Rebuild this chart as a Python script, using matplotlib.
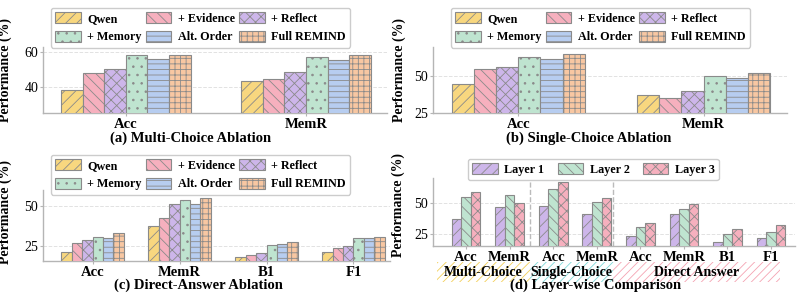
import matplotlib
matplotlib.use('Agg')
import matplotlib.pyplot as plt
import numpy as np
from matplotlib.patches import Rectangle
from matplotlib.transforms import blended_transform_factory

# ---- data ----
variants = ["Qwen", "+ Evidence", "+ Reflect", "+ Memory", "Alt. Order", "Full REMIND"]

mc_metrics = ["Acc", "MemR"]
mc_qwen = [38.1, 43.3]
mc_evidence = [47.9, 44.4]
mc_reflect = [50.2, 48.7]
mc_memory = [57.9, 57.0]
mc_alt = [55.6, 55.4]
mc_full = [58.3, 57.9]

sc_metrics = ["Acc", "MemR"]
sc_qwen = [44.9, 37.1]
sc_evidence = [54.9, 35.0]
sc_reflect = [56.2, 40.2]
sc_memory = [63.4, 50.5]
sc_alt = [61.8, 48.6]
sc_full = [65.4, 52.1]

da_metrics = ["Acc", "MemR", "B1", "F1"]
da_qwen = [21.1, 37.7, 17.9, 21.3]
da_evidence = [26.5, 42.7, 19.2, 23.8]
da_reflect = [28.6, 51.5, 20.8, 25.2]
da_memory = [30.6, 53.6, 25.4, 30.0]
da_alt = [30.2, 51.3, 26.1, 30.0]
da_full = [32.9, 54.8, 27.5, 30.6]

layer_metrics = ["Acc", "MemR", "Acc", "MemR", "Acc", "MemR", "B1", "F1"]
layer_names = ["Layer 1", "Layer 2", "Layer 3"]
layer1 = [37.1, 46.8, 47.0, 40.8, 23.1, 40.9, 18.5, 21.5]
layer2 = [54.8, 56.1, 61.3, 50.2, 30.6, 44.9, 25.0, 26.3]
layer3 = [58.5, 50.0, 66.9, 53.5, 33.9, 49.0, 29.0, 31.7]
groups = ["Multi-Choice", "Single-Choice", "Direct Answer"]

# ---- style ----
COLORS = {
    "Qwen": "#F8D77F", "+ Evidence": "#F6B0BE", "+ Reflect": "#CDB6EA",
    "+ Memory": "#BFE4D0", "Alt. Order": "#B7CDF0", "Full REMIND": "#F8C7A2",
    "Layer 1": "#CDB6EA", "Layer 2": "#BFE4D0", "Layer 3": "#F6B0BE",
}
HATCHES = {
    "Qwen": "///", "+ Evidence": "\\\\\\", "+ Reflect": "xxx",
    "+ Memory": "..", "Alt. Order": "---", "Full REMIND": "+++",
    "Layer 1": "///", "Layer 2": "\\\\\\", "Layer 3": "xxx",
}
EDGE = "#8a8a8a"
SPINE = "#b5b5b5"

plt.rc('font', family='Liberation Serif')
plt.rc('hatch', linewidth=0.6)

W, H = 798, 295
fig = plt.figure(figsize=(W / 100, H / 100), dpi=100)


def px_axes(left, top, right, bottom):
    return fig.add_axes([left / W, 1 - bottom / H, (right - left) / W, (bottom - top) / H])


def style_axes(ax, ylim, yticks, xlim):
    ax.set_ylim(*ylim)
    ax.set_xlim(*xlim)
    ax.set_yticks(yticks)
    ax.grid(axis='y', linestyle='--', color='#e2e2e2', linewidth=0.7, zorder=0)
    ax.set_axisbelow(True)
    for s in ['top', 'right']:
        ax.spines[s].set_visible(False)
    for s in ['left', 'bottom']:
        ax.spines[s].set_color(SPINE)
        ax.spines[s].set_linewidth(1.0)
    ax.tick_params(axis='both', colors=SPINE, length=2.5, pad=1)
    ax.tick_params(axis='y', labelcolor='black', labelsize=10)
    ax.tick_params(axis='x', labelcolor='black', labelsize=10.5)
    for lab in ax.get_xticklabels():
        lab.set_fontweight('bold')


def grouped_bars(ax, metrics, names, series, width):
    x = np.arange(len(metrics))
    n = len(series)
    handles = []
    for i, (name, vals) in enumerate(zip(names, series)):
        off = (i - (n - 1) / 2) * width
        h = ax.bar(x + off, vals, width, color=COLORS[name], hatch=HATCHES[name],
                   edgecolor=EDGE, linewidth=0.8, label=name, zorder=3)
        handles.append(h)
    ax.set_xticks(x)
    ax.set_xticklabels(metrics)
    return handles


def add_legend(ax, handles, names, x, y, ncol, order, colsp):
    ax.legend([handles[i] for i in order], [names[i] for i in order],
              loc='upper left', bbox_to_anchor=(x / W, 1 - y / H), bbox_transform=fig.transFigure,
              borderaxespad=0, ncol=ncol, prop={'weight': 'bold', 'size': 8.7}, frameon=True,
              edgecolor='#cccccc', framealpha=1.0, borderpad=0.35, handlelength=2.1,
              handleheight=1.0, columnspacing=colsp, handletextpad=0.55, labelspacing=0.5)


def label_panel(ax, title, tx, ty, lx, ly):
    fig.text(tx / W, 1 - ty / H, title, ha='center', va='center', fontsize=10.5, fontweight='bold')
    ax.set_ylabel("Performance (%)", fontsize=10, fontweight='bold')
    ax.yaxis.set_label_coords(lx / W, 1 - ly / H, transform=fig.transFigure)


legend_order = [0, 3, 1, 4, 2, 5]

# (a) Multi-choice ablation
ax_a = px_axes(43, 47, 387, 113)
h = grouped_bars(ax_a, mc_metrics, variants,
                 [mc_qwen, mc_evidence, mc_reflect, mc_memory, mc_alt, mc_full], 0.12)
style_axes(ax_a, (25, 62.7), [40, 60], (-0.46, 1.45))
add_legend(ax_a, h, variants, 51, 8, 3, legend_order, 0.35)
label_panel(ax_a, "(a) Multi-Choice Ablation", 191, 138, 12.5, 70)

# (b) Single-choice ablation
ax_b = px_axes(433, 47, 787, 113)
h = grouped_bars(ax_b, sc_metrics, variants,
                 [sc_qwen, sc_evidence, sc_reflect, sc_memory, sc_alt, sc_full], 0.12)
style_axes(ax_b, (25, 70), [25, 50], (-0.46, 1.45))
add_legend(ax_b, h, variants, 451, 8, 3, legend_order, 0.35)
label_panel(ax_b, "(b) Single-Choice Ablation", 589, 138, 406, 70)

# (c) Direct-answer ablation
ax_c = px_axes(43, 190, 390, 261)
h = grouped_bars(ax_c, da_metrics, variants,
                 [da_qwen, da_evidence, da_reflect, da_memory, da_alt, da_full], 0.12)
style_axes(ax_c, (15.5, 60), [25, 50], (-0.57, 3.42))
add_legend(ax_c, h, variants, 51, 155, 3, legend_order, 0.35)
label_panel(ax_c, "(c) Direct-Answer Ablation", 198, 285, 12.5, 212)

# (d) Layer-wise comparison
ax_d = px_axes(433, 178, 795, 246)
h = grouped_bars(ax_d, layer_metrics, layer_names, [layer1, layer2, layer3], 0.22)
style_axes(ax_d, (15, 70), [25, 50], (-0.76, 7.55))
add_legend(ax_d, h, layer_names, 468, 159, 3, [0, 1, 2], 1.1)
label_panel(ax_d, "(d) Layer-wise Comparison", 596, 285, 405, 205)

# separators and group bands under the x axis
seps = [1.47, 3.37]
for s in seps:
    ax_d.axvline(s, color='#bbbbbb', linestyle='--', linewidth=1.0, zorder=1)
band_edges = [-0.67, 1.47, 3.37, 7.2]
band_colors = ["#F3CF5A", "#7ED8D8", "#F4A3B2"]
trans = blended_transform_factory(ax_d.transData, ax_d.transAxes)
for g, c, x0, x1 in zip(groups, band_colors, band_edges[:-1], band_edges[1:]):
    r = Rectangle((x0, -0.53), x1 - x0, 0.3, transform=trans, facecolor='white',
                  edgecolor=c, hatch='////', linewidth=0, clip_on=False, zorder=0)
    ax_d.add_patch(r)
    ax_d.text((x0 + x1) / 2, -0.39, g, transform=trans, ha='center', va='center',
              fontsize=10, fontweight='bold', zorder=2)

fig.savefig('out.png', dpi=100)
